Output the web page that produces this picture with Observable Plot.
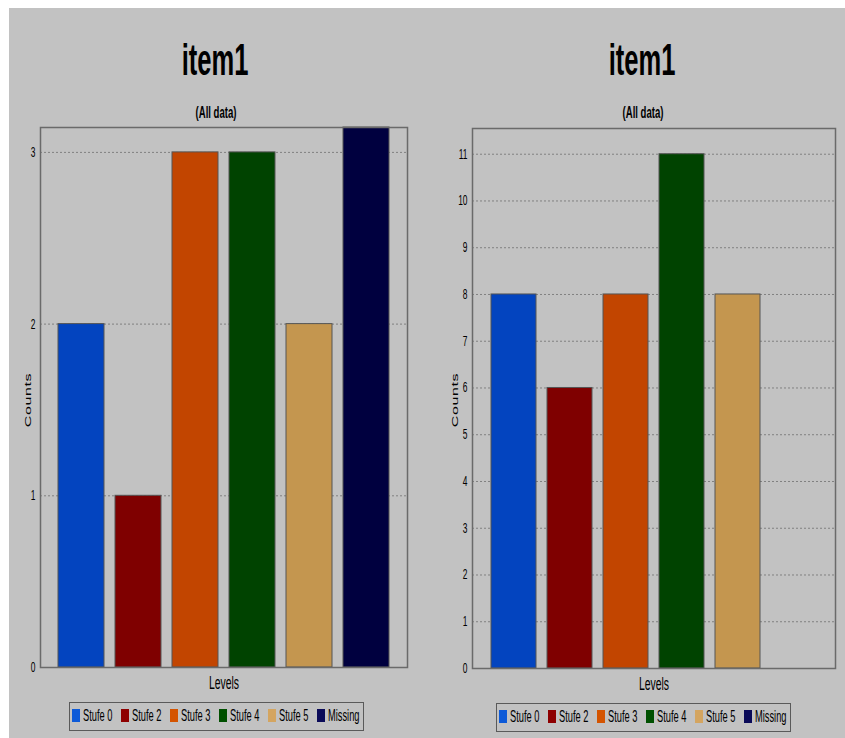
<!DOCTYPE html>
<html><head><meta charset="utf-8">
<script src="https://cdn.jsdelivr.net/npm/d3@7"></script>
<script src="https://cdn.jsdelivr.net/npm/@observablehq/plot@0.6"></script>
<style>
html,body{margin:0;padding:0;background:#fff;}
body{width:845px;height:738px;position:relative;overflow:hidden;font-family:"Liberation Sans",Arial,sans-serif;color:#000;}
#bg{position:absolute;left:9px;top:8px;width:836px;height:730px;background:#c2c2c2;}
.abs{position:absolute;}
.c{position:absolute;white-space:nowrap;line-height:1;transform:translateX(-50%) scaleX(0.58);}
.rot{position:absolute;left:0;top:0;white-space:nowrap;line-height:1;transform:translate(-50%,-50%) rotate(-90deg) scaleY(0.6);}
.legend{position:absolute;border:1.5px solid #5a5a5a;box-sizing:border-box;height:29px;}
.item{position:absolute;top:0;height:100%;}
.sw{position:absolute;left:0;width:8px;height:13px;box-sizing:border-box;}
.lt{position:absolute;left:11px;white-space:nowrap;line-height:1;font-size:16px;transform:scaleX(0.58);transform-origin:left center;}
</style>
</head><body>
<div id="bg"></div>
<div id="root"></div>
<script>
// ---- data ----
const categories = ["Stufe 0", "Stufe 2", "Stufe 3", "Stufe 4", "Stufe 5", "Missing"];
const countsLeft = [2, 1, 3, 3, 2, 4];
const countsRight = [8, 6, 8, 11, 8, null];
const barColors = ["#0344bf", "#7f0000", "#c24500", "#004300", "#c4964f", "#00003f"];
const legendColors = ["#0d5ad8", "#8e0000", "#d45400", "#005000", "#d4a560", "#0a0a58"];
const ticksLeft = [0, 1, 2, 3];
const ticksRight = [0, 1, 2, 3, 4, 5, 6, 7, 8, 9, 10, 11];
const titleText = "item1";
const subtitleText = "(All data)";
const xLabel = "Levels";
const yLabel = "Counts";

const root = document.getElementById("root");

function addText(cls, text, left, top, size, bold) {
  const d = document.createElement("div");
  d.className = cls;
  d.textContent = text;
  d.style.left = left + "px";
  d.style.top = top + "px";
  d.style.fontSize = size + "px";
  if (bold) d.style.fontWeight = "bold";
  root.appendChild(d);
  return d;
}
function addRot(text, cx, cy, size) {
  const w = document.createElement("div");
  w.className = "abs";
  w.style.left = cx + "px"; w.style.top = cy + "px";
  const s = document.createElement("span");
  s.className = "rot"; s.textContent = text; s.style.fontSize = size + "px";
  s.style.letterSpacing = "0.6px";
  w.appendChild(s);
  root.appendChild(w);
}
function addLegend(left, top, width) {
  const box = document.createElement("div");
  box.className = "legend";
  box.style.left = left + "px"; box.style.top = top + "px"; box.style.width = width + "px";
  categories.forEach((c, i) => {
    const it = document.createElement("div");
    it.className = "item";
    it.style.left = (2 + i * 49) + "px";
    const sw = document.createElement("div");
    sw.className = "sw"; sw.style.background = legendColors[i]; sw.style.top = "5.5px";
    const t = document.createElement("div");
    t.className = "lt"; t.textContent = c; t.style.top = "5px";
    it.appendChild(sw); it.appendChild(t);
    box.appendChild(it);
  });
  root.appendChild(box);
}

function chart(counts, ticks, ymax, opts) {
  const data = categories.map((c, i) => ({cat: c, count: counts[i]})).filter(d => d.count != null && d.count > 0);
  const svg = Plot.plot({
    width: opts.width, height: 580,
    marginLeft: opts.ml, marginRight: opts.mr, marginTop: opts.mt, marginBottom: opts.mb,
    style: {background: "transparent", fontFamily: "Liberation Sans, Arial, sans-serif", fontSize: "14px", color: "#000"},
    x: {domain: categories, axis: null, paddingInner: 0.2, paddingOuter: opts.po},
    y: {domain: [0, ymax], clamp: true, label: null, ticks: ticks},
    color: {domain: categories, range: barColors},
    marks: [
      Plot.gridY(ticks.filter(t => t > 0), {stroke: "#808080", strokeOpacity: 1, strokeDasharray: "2,2", strokeWidth: 1}),
      Plot.barY(data, {x: "cat", y: "count", fill: "cat", stroke: "#555", strokeWidth: 1}),
      Plot.axisY(ticks, {tickSize: 0, tickPadding: 5, fontSize: 14, label: null, tickFormat: d3.format("d")}),
      Plot.frame({stroke: "#6a6a6a", strokeWidth: 1.5})
    ]
  });
  svg.style.position = "absolute";
  svg.style.left = opts.left + "px";
  svg.style.top = "120px";
  d3.select(svg).selectAll("g[aria-label='y-axis tick label'] text").each(function() {
    const tr = this.getAttribute("transform") || "";
    this.setAttribute("transform", tr + " scale(0.6,1)");
  });
  root.appendChild(svg);
}

// Left panel
addText("c", titleText, 215, 37.8, 44, true);
addText("c", subtitleText, 216, 104, 16.5, true);
chart(countsLeft, ticksLeft, 3.145, {left: 0, width: 420, ml: 40, mr: 13, mt: 7, mb: 33, po: 0.28});
addRot(yLabel, 28, 400, 16);
addText("c", xLabel, 223.5, 673.8, 18, false);
addLegend(69, 702, 295);

// Right panel
addText("c", titleText, 642, 37.8, 44, true);
addText("c", subtitleText, 643, 104, 16.5, true);
chart(countsRight, ticksRight, 11.55, {left: 430, width: 415, ml: 42, mr: 10, mt: 8, mb: 32, po: 0.33});
addRot(yLabel, 455, 400, 16);
addText("c", xLabel, 653.5, 675.3, 18, false);
addLegend(496, 703, 295);
</script>
</body></html>
